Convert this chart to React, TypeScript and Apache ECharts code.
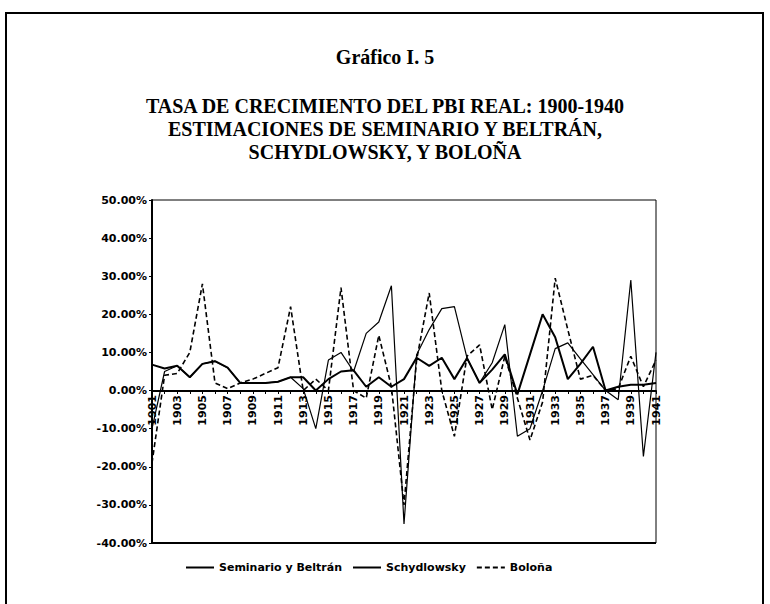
import React, { useEffect, useRef } from "react";
import * as echarts from "echarts";

const years: string[] = [
  "1901","1902","1903","1904","1905","1906","1907","1908","1909","1910",
  "1911","1912","1913","1914","1915","1916","1917","1918","1919","1920",
  "1921","1922","1923","1924","1925","1926","1927","1928","1929","1930",
  "1931","1932","1933","1934","1935","1936","1937","1938","1939","1940","1941",
];

const seminarioBeltran: number[] = [
  6.8, 5.8, 6.5, 3.5, 7.0, 7.7, 6.0, 2.0, 2.0, 2.0,
  2.3, 3.5, 3.5, 0.0, 3.0, 5.0, 5.3, 1.0, 3.5, 1.0,
  3.0, 8.6, 6.5, 8.6, 3.0, 8.5, 2.0, 5.5, 9.5, -1.0,
  9.5, 20.0, 14.0, 3.0, 7.0, 11.5, 0.0, 1.0, 1.5, 1.5, 2.0,
];

const schydlowsky: number[] = [
  -10.0, 5.0, 6.5, 3.5, 7.0, 7.7, 6.0, 2.0, 2.0, 2.0,
  2.3, 3.5, 0.5, -10.0, 8.0, 10.0, 5.0, 15.0, 18.0, 27.5,
  -35.0, 9.4, 16.0, 21.5, 22.0, 8.6, 2.0, 7.3, 17.3, -12.0,
  -10.0, 0.0, 11.0, 12.5, 8.3, 4.2, 0.0, -2.4, 29.0, -17.3, 10.0,
];

const bolona: number[] = [
  -19.0, 4.0, 4.5, 10.0, 28.0, 2.0, 0.5, 2.0, 3.0, 4.5,
  6.0, 22.0, 0.0, 3.0, 0.0, 27.0, 0.0, -2.0, 14.5, 1.0,
  -30.0, 8.0, 25.6, 0.0, -12.0, 9.0, 12.0, -5.0, 9.0, -2.0,
  -13.0, -3.0, 29.5, 16.0, 3.0, 4.0, 0.0, 0.5, 9.0, 1.0, 8.0,
];

const seriesNames: string[] = ["Seminario y Beltrán", "Schydlowsky", "Boloña"];
const titleLines: string[] = [
  "TASA DE CRECIMIENTO DEL PBI REAL: 1900-1940",
  "ESTIMACIONES DE SEMINARIO Y BELTRÁN,",
  "SCHYDLOWSKY, Y BOLOÑA",
];

export default function App() {
  const ref = useRef<HTMLDivElement>(null);
  useEffect(() => {
    if (!ref.current) return;
    const chart = echarts.init(ref.current, undefined, { renderer: "svg" });
    const axisFont = { fontFamily: "DejaVu Sans", fontWeight: "bold" as const, fontSize: 11, color: "#000" };
    chart.setOption({
      animation: false,
      backgroundColor: "#fff",
      graphic: [
        { type: "rect", shape: { x: 6, y: 13, width: 757, height: 600 }, style: { fill: "none", stroke: "#000", lineWidth: 2 } },
        { type: "line", shape: { x1: 152, y1: 543, x2: 656, y2: 543 }, style: { stroke: "#000", lineWidth: 2 }, z: 10 },
        { type: "text", x: 385, y: 57, style: { text: "Gráfico I. 5", fontFamily: "Liberation Serif", fontWeight: "bold", fontSize: 20, fill: "#000", textAlign: "center", textVerticalAlign: "middle" } },
        ...titleLines.map((t, i) => ({
          type: "text", x: 385, y: 106 + i * 23,
          style: { text: t, fontFamily: "Liberation Serif", fontWeight: "bold", fontSize: 20, fill: "#000", textAlign: "center", textVerticalAlign: "middle" },
        })),
      ],
      grid: { left: 152, top: 200, width: 504, height: 343, show: true, borderColor: "#000", borderWidth: 1, backgroundColor: "transparent" },
      legend: {
        left: 180, top: 557, itemWidth: 28, itemHeight: 12, itemGap: 10,
        textStyle: { ...axisFont, fontSize: 11 },
        itemStyle: { color: "transparent", borderColor: "transparent", borderWidth: 0 },
        data: seriesNames,
      },
      xAxis: {
        type: "category", data: years, boundaryGap: false, position: "bottom", offset: -152,
        axisLine: { onZero: false, lineStyle: { color: "#000", width: 2 } },
        axisTick: { show: true, interval: 0, length: 3, lineStyle: { color: "#000", width: 1 } },
        axisLabel: { ...axisFont, rotate: 90, interval: 1, margin: 4 },
        splitLine: { show: false },
      },
      yAxis: {
        type: "value", min: -40, max: 50, interval: 10,
        axisLine: { show: true, lineStyle: { color: "#000", width: 2 } },
        axisTick: { show: true, length: 3, lineStyle: { color: "#000" } },
        axisLabel: { ...axisFont, margin: 5, formatter: (v: number) => v.toFixed(2) + "%" },
        splitLine: { show: false },
      },
      series: [
        { name: seriesNames[0], type: "line", data: seminarioBeltran, symbol: "none", lineStyle: { color: "#000", width: 2 }, itemStyle: { color: "#000" } },
        { name: seriesNames[1], type: "line", data: schydlowsky, symbol: "none", lineStyle: { color: "#000", width: 1.2 }, itemStyle: { color: "#000" } },
        { name: seriesNames[2], type: "line", data: bolona, symbol: "none", lineStyle: { color: "#000", width: 1.6, type: [5, 3] }, itemStyle: { color: "#000" } },
      ],
    });
    return () => chart.dispose();
  }, []);
  return <div ref={ref} style={{ position: "fixed", left: 0, top: 0, width: 770, height: 604 }} />;
}
